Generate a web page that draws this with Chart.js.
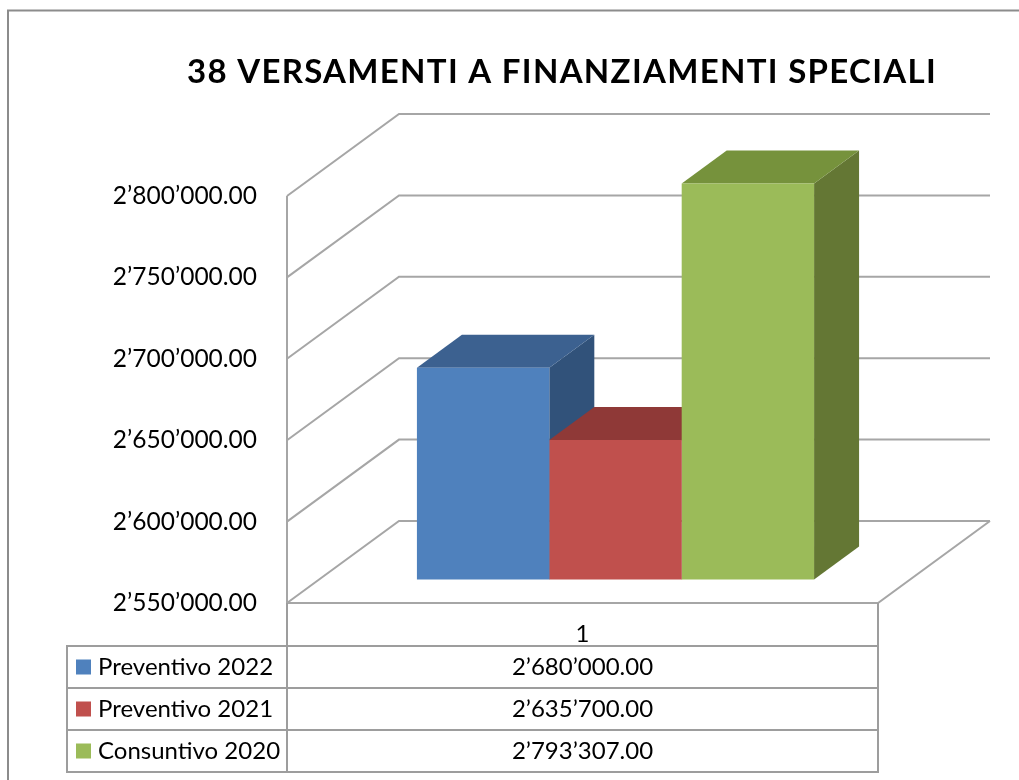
<!DOCTYPE html>
<html><head><meta charset="utf-8">
<script src="https://cdn.jsdelivr.net/npm/chart.js@4/dist/chart.umd.min.js"></script>
<style>html,body{margin:0;padding:0;background:#fff}#wrap{width:1019px;height:780px;position:relative}</style>
</head><body><div id="wrap"><canvas id="c"></canvas></div>
<script>
// ---- data ----
const chartTitle = '38 VERSAMENTI A FINANZIAMENTI SPECIALI';
const categories = ['1'];
const seriesNames = ['Preventivo 2022', 'Preventivo 2021', 'Consuntivo 2020'];
const preventivo2022 = [2680000];
const preventivo2021 = [2635700];
const consuntivo2020 = [2793307];
const yMin = 2550000, yMax = 2800000, yStep = 50000;

// ---- styles ----
const frontColors = ['#4F81BD', '#C0504D', '#9BBB59'];
const topColors = ['#3C6190', '#8F3937', '#76923C'];
const sideColors = ['#31527A', '#7B302E', '#647734'];
const FONT = 'Lato, "Open Sans", sans-serif';
const WALL_DX = 112, WALL_DY = -82;
const BAR_SHIFT_X = 33, BAR_SHIFT_Y = -23.5;
const BAR_DX = 45, BAR_DY = -33;
const GRID_COLOR = '#a6a6a6';

function fmt(v) {
  return Math.round(v).toString().replace(/\B(?=(\d{3})+(?!\d))/g, '\u2019') + '.00';
}

const seriesData = [preventivo2022, preventivo2021, consuntivo2020];

const threeD = {
  id: 'threeD',
  beforeDraw(chart) {
    const ctx = chart.ctx;
    ctx.save();
    ctx.fillStyle = '#fff';
    ctx.fillRect(0, 0, chart.width, chart.height);
    ctx.strokeStyle = '#8c8c8c';
    ctx.lineWidth = 2;
    ctx.strokeRect(8, 10.5, 1200, 1000);
    ctx.fillStyle = '#000';
    ctx.font = 'bold 33px ' + FONT;
    ctx.letterSpacing = '1.3px';
    ctx.textAlign = 'center';
    ctx.textBaseline = 'alphabetic';
    ctx.fillText(chartTitle, 562, 83);
    ctx.letterSpacing = '0px';
    ctx.restore();
  },
  beforeDatasetsDraw(chart) {
    const {ctx, chartArea: a, scales: {y}} = chart;
    ctx.save();
    ctx.strokeStyle = GRID_COLOR;
    ctx.lineWidth = 2;
    y.ticks.forEach(t => {
      const py = y.getPixelForValue(t.value);
      ctx.beginPath();
      ctx.moveTo(a.left, py);
      ctx.lineTo(a.left + WALL_DX, py + WALL_DY);
      ctx.lineTo(a.right + WALL_DX, py + WALL_DY);
      ctx.stroke();
    });
    ctx.beginPath();
    ctx.moveTo(a.left, a.bottom);
    ctx.lineTo(a.right, a.bottom);
    ctx.lineTo(a.right + WALL_DX, a.bottom + WALL_DY);
    ctx.stroke();
    ctx.beginPath();
    ctx.moveTo(a.left, y.getPixelForValue(yMax));
    ctx.lineTo(a.left, a.bottom);
    ctx.stroke();
    // side and top faces of the bars
    ctx.translate(BAR_SHIFT_X, BAR_SHIFT_Y);
    chart.data.datasets.forEach((ds, i) => {
      const meta = chart.getDatasetMeta(i);
      meta.data.forEach(el => {
        const {x, y: top, base, width} = el.getProps(['x', 'y', 'base', 'width'], true);
        const x1 = x - width / 2, x2 = x + width / 2;
        ctx.fillStyle = sideColors[i];
        ctx.beginPath();
        ctx.moveTo(x2, top);
        ctx.lineTo(x2 + BAR_DX, top + BAR_DY);
        ctx.lineTo(x2 + BAR_DX, base + BAR_DY);
        ctx.lineTo(x2, base);
        ctx.closePath();
        ctx.fill();
        ctx.fillStyle = topColors[i];
        ctx.beginPath();
        ctx.moveTo(x1, top);
        ctx.lineTo(x1 + BAR_DX, top + BAR_DY);
        ctx.lineTo(x2 + BAR_DX, top + BAR_DY);
        ctx.lineTo(x2, top);
        ctx.closePath();
        ctx.fill();
      });
    });
    ctx.restore();
  },
  beforeDatasetDraw(chart) {
    chart.ctx.save();
    chart.ctx.translate(BAR_SHIFT_X, BAR_SHIFT_Y);
  },
  afterDatasetDraw(chart) {
    chart.ctx.restore();
  },
  afterDraw(chart) {
    const {ctx, chartArea: a, scales: {x}} = chart;
    const tableLeft = 67, headerH = 43, rowH = 42;
    const rowTop = a.bottom + headerH;
    const tableBottom = rowTop + rowH * seriesNames.length;
    ctx.save();
    ctx.strokeStyle = '#9d9d9d';
    ctx.lineWidth = 2;
    ctx.beginPath();
    ctx.moveTo(a.left, a.bottom); ctx.lineTo(a.left, tableBottom);
    ctx.moveTo(a.right, a.bottom); ctx.lineTo(a.right, tableBottom);
    ctx.moveTo(tableLeft, rowTop); ctx.lineTo(tableLeft, tableBottom);
    for (let i = 0; i <= seriesNames.length; i++) {
      const yy = rowTop + rowH * i;
      ctx.moveTo(tableLeft - 1, yy); ctx.lineTo(a.right + 1, yy);
    }
    ctx.stroke();
    ctx.fillStyle = '#000';
    ctx.font = '24px ' + FONT;
    ctx.textBaseline = 'middle';
    ctx.textAlign = 'center';
    categories.forEach((c, j) => {
      ctx.fillText(c, x.getPixelForValue(j), a.bottom + 31);
    });
    seriesNames.forEach((name, i) => {
      const cy = rowTop + rowH * i + rowH / 2;
      ctx.fillStyle = frontColors[i];
      ctx.fillRect(76, cy - 7.5, 15, 15);
      ctx.fillStyle = '#000';
      ctx.textAlign = 'left';
      ctx.fillText(name, 98, cy);
      ctx.textAlign = 'center';
      seriesData[i].forEach((v, j) => {
        ctx.fillText(fmt(v), x.getPixelForValue(j), cy);
      });
    });
    ctx.restore();
  }
};

new Chart(document.getElementById('c'), {
  type: 'bar',
  data: {
    labels: categories,
    datasets: seriesNames.map((n, i) => ({
      label: n,
      data: seriesData[i],
      base: yMin,
      backgroundColor: frontColors[i],
      borderWidth: 0,
      categoryPercentage: 0.672,
      barPercentage: 1,
      clip: false
    }))
  },
  options: {
    responsive: true,
    maintainAspectRatio: false,
    animation: false,
    layout: {padding: {top: 196, bottom: 177, left: 0, right: 141}},
    plugins: {legend: {display: false}, tooltip: {enabled: false}, title: {display: false}},
    scales: {
      x: {display: false},
      y: {
        min: yMin, max: yMax,
        afterFit(s) { s.width = 287; },
        ticks: {stepSize: yStep, padding: 30, color: '#000', font: {family: FONT, size: 24.5}, callback: v => fmt(v)},
        grid: {display: false, drawTicks: false},
        border: {display: false}
      }
    }
  },
  plugins: [threeD]
});
</script>
</body></html>
